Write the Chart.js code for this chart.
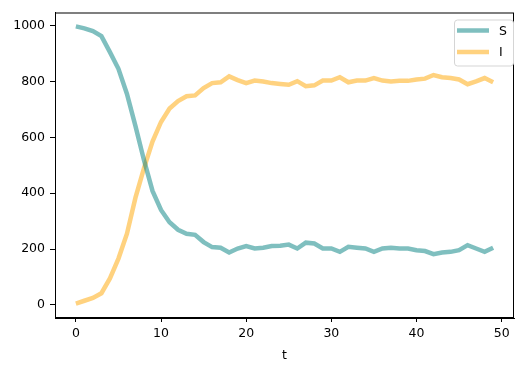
<!DOCTYPE html>
<html>
<head>
<meta charset="utf-8">
<script src="https://cdn.jsdelivr.net/npm/chart.js@4"></script>
<style>
  html, body { margin: 0; padding: 0; background: #fff; }
  #wrap { width: 529px; height: 371px; }
</style>
</head>
<body>
<div id="wrap"><canvas id="chart" width="529" height="371"></canvas></div>
<script>
const t = [0,1,2,3,4,5,6,7,8,9,10,11,12,13,14,15,16,17,18,19,20,21,22,23,24,
  25,26,27,28,29,30,31,32,33,34,35,36,37,38,39,40,41,42,43,44,45,46,47,48,49];
const S = [997,990,980,962,905,845,755,640,518,408,340,296,269,255,251,225,207,205,188,202,
  211,202,205,211,212,216,202,223,220,202,202,190,208,205,202,190,202,205,202,202,
  196,193,182,188,190,196,214,202,190,205];
const I = [5,15,25,42,95,166,255,384,490,585,655,703,730,747,750,776,794,797,818,805,
  794,803,800,794,791,788,801,783,786,803,803,815,797,803,803,812,803,800,802,802,
  807,810,823,815,812,807,790,800,812,797];
const xTicks = [0,10,20,30,40,50];
const yTicks = [0,200,400,600,800,1000];

const font = { family: "'DejaVu Sans', sans-serif", size: 12.5 };

// legend drawn inside the axes, upper right, matplotlib style
const boxLegend = {
  id: "boxLegend",
  afterDraw(chart) {
    const ctx = chart.ctx;
    const a = chart.chartArea;
    const x0 = a.right - 60, y0 = a.top + 7, w = 59, h = 46;
    ctx.save();
    ctx.beginPath();
    ctx.roundRect(x0 + 0.5, y0 + 0.5, w, h, 3);
    ctx.fillStyle = "rgba(255,255,255,0.8)";
    ctx.fill();
    ctx.strokeStyle = "#d5d5d5";
    ctx.lineWidth = 1;
    ctx.stroke();
    ctx.font = "12.5px 'DejaVu Sans', sans-serif";
    ctx.textBaseline = "middle";
    chart.data.datasets.forEach((ds, i) => {
      const y = y0 + 11 + i * 21.5;
      ctx.beginPath();
      ctx.moveTo(x0 + 3, y);
      ctx.lineTo(x0 + 35, y);
      ctx.strokeStyle = ds.borderColor;
      ctx.lineWidth = 4.5;
      ctx.stroke();
      ctx.fillStyle = "#000";
      ctx.fillText(ds.label, x0 + 45, y + 1);
    });
    ctx.restore();
  }
};

// full frame around the plot area
const frame = {
  id: "frame",
  afterDraw(chart) {
    const ctx = chart.ctx;
    const a = chart.chartArea;
    ctx.save();
    ctx.strokeStyle = "#000";
    ctx.lineWidth = 1;
    ctx.strokeRect(a.left + 0.5, a.top + 0.5, a.right - a.left - 1, a.bottom - a.top - 1);
    ctx.restore();
  }
};

new Chart(document.getElementById("chart"), {
  type: "line",
  data: {
    datasets: [
      {
        label: "S",
        data: t.map((v, i) => ({ x: v, y: S[i] })),
        borderColor: "rgba(0,128,128,0.5)",
        borderWidth: 4.5,
        pointRadius: 0,
        tension: 0,
        fill: false
      },
      {
        label: "I",
        data: t.map((v, i) => ({ x: v, y: I[i] })),
        borderColor: "rgba(255,165,0,0.5)",
        borderWidth: 4.5,
        pointRadius: 0,
        tension: 0,
        fill: false
      }
    ]
  },
  options: {
    responsive: false,
    animation: false,
    layout: { padding: { left: 0, right: 15, top: 10, bottom: 0 } },
    plugins: { legend: { display: false }, tooltip: { enabled: false } },
    scales: {
      x: {
        type: "linear",
        min: -2.45,
        max: 51.45,
        afterBuildTicks: (s) => { s.ticks = xTicks.map(v => ({ value: v })); },
        afterFit: (s) => { s.height = 53; },
        grid: { drawOnChartArea: false, color: "#000", tickLength: 4, tickWidth: 1 },
        border: { display: true, color: "#000" },
        ticks: { color: "#000", font: font, padding: 4, maxRotation: 0, callback: (v) => String(v) },
        title: { display: true, text: "t", color: "#000", font: font, padding: { top: 0, bottom: 8 } }
      },
      y: {
        min: -46.7,
        max: 1046.7,
        afterBuildTicks: (s) => { s.ticks = yTicks.map(v => ({ value: v })); },
        afterFit: (s) => { s.width = 55; },
        grid: { drawOnChartArea: false, color: "#000", tickLength: 5, tickWidth: 1 },
        border: { display: true, color: "#000" },
        ticks: { color: "#000", font: font, padding: 5, callback: (v) => String(v) }
      }
    }
  },
  plugins: [frame, boxLegend]
});
</script>
</body>
</html>
